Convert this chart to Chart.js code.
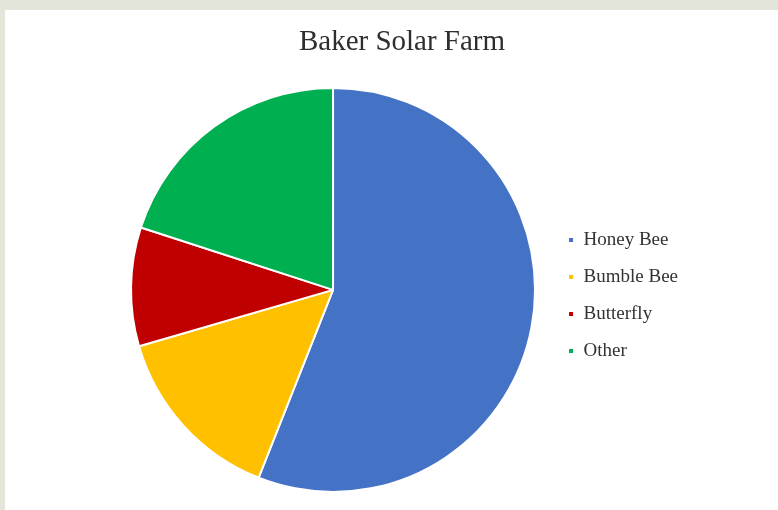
<!DOCTYPE html>
<html>
<head>
    <meta charset="UTF-8">
    <title>Baker Solar Farm</title>
    <script src="https://cdn.jsdelivr.net/npm/chart.js"></script>
    <style>
        html, body { margin: 0; padding: 0; }
        body { width: 778px; height: 510px; background: #e2e5d7; position: relative; overflow: hidden; }
        .panel { position: absolute; left: 5px; top: 10px; right: 0; bottom: 0; background: #ffffff; }
        .chart-container { position: absolute; left: 0; top: 0; width: 778px; height: 510px; }
    </style>
</head>
<body>
    <div class="panel"></div>
    <div class="chart-container">
        <canvas id="pieChart" width="778" height="510"></canvas>
    </div>

    <script type="text/javascript">
        const categories = ['Honey Bee', 'Bumble Bee', 'Butterfly', 'Other'];
        const shares = [56, 14.5, 9.5, 20];
        const sliceColors = ['#4472c4', '#ffc000', '#c00000', '#00b050'];

        const serif = '"Liberation Serif", "Times New Roman", serif';

        const ctx = document.getElementById('pieChart').getContext('2d');
        const myChart = new Chart(ctx, {
            type: 'pie',
            data: {
                labels: categories,
                datasets: [{
                    data: shares,
                    backgroundColor: sliceColors,
                    borderColor: '#ffffff',
                    borderWidth: 2,
                    hoverOffset: 0,
                    radius: 202
                }]
            },
            options: {
                responsive: false,
                animation: false,
                layout: {
                    padding: { left: 116, right: 90, top: 15, bottom: 0 }
                },
                plugins: {
                    title: {
                        display: true,
                        text: 'Baker Solar Farm',
                        color: '#2e2e2e',
                        font: { family: serif, size: 29, weight: 'normal' },
                        padding: { top: 10, bottom: 10 }
                    },
                    legend: {
                        position: 'right',
                        fullSize: false,
                        // empty title only nudges the items down a little
                        title: {
                            display: true,
                            text: '',
                            font: { size: 11, lineHeight: 1 },
                            padding: 0
                        },
                        labels: {
                            color: '#333333',
                            font: { family: serif, size: 19 },
                            boxWidth: 6,
                            boxHeight: 6,
                            padding: 18
                        }
                    },
                    tooltip: { enabled: false }
                }
            }
        });
    </script>
</body>
</html>
